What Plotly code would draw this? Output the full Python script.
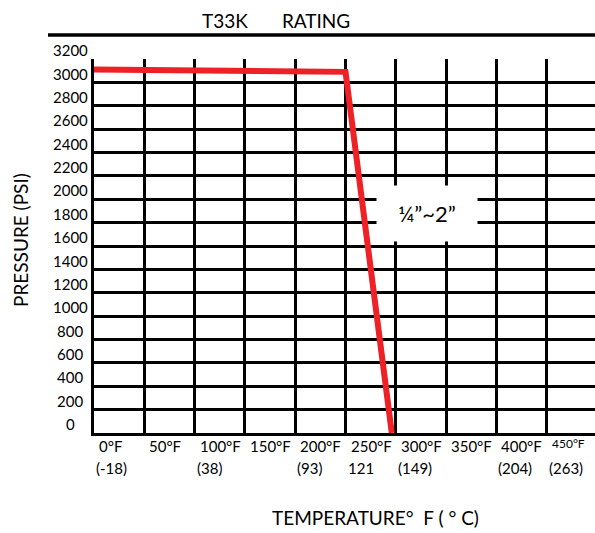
import plotly.graph_objects as go

# ---- data ----
temp_f = [0, 250, 296]
pressure_psi = [3110, 3090, 0]

y_label_values = [0, 200, 400, 600, 800, 1000, 1200, 1400, 1600, 1800, 2000,
                  2200, 2400, 2600, 2800, 3000, 3200]
x_f_values = [0, 50, 100, 150, 200, 250, 300, 350, 400, 450]
x_f_labels = ["0°F", "50°F", "100°F", "150°F", "200°F", "250°F", "300°F",
              "350°F", "400°F", "450°F"]
x_c_values = [0, 100, 200, 250, 300, 400, 450]
x_c_labels = ["(-18)", "(38)", "(93)", "121", "(149)", "(204)", "(263)"]

size_label = "¼”~2”"
size_label_x = 331
size_label_y = 1880

Y_RANGE = [0, 3200]
X_RANGE = [0, 498]

FONT = "Lato, 'Open Sans', sans-serif"
W, H = 595, 533
ML, MR, MT, MB = 94, 0, 59, 100
PW = W - ML - MR
PH = H - MT - MB


def py(pix):
    """paper y from a pixel row"""
    return (MT + PH - pix) / PH


def px(pix):
    """paper x from a pixel column"""
    return (pix - ML) / PW


fig = go.Figure()
fig.add_trace(go.Scatter(
    x=temp_f, y=pressure_psi, mode="lines",
    line=dict(color="#EE2126", width=6), hoverinfo="skip", showlegend=False))

annotations = []
# y labels (centred in the grid rows, at the left)
for v in y_label_values:
    annotations.append(dict(
        text=str(v), xref="paper", yref="paper", x=px(70),
        y=(v + 75 - Y_RANGE[0]) / (Y_RANGE[1] - Y_RANGE[0]),
        xanchor="center", yanchor="middle", showarrow=False,
        font=dict(family=FONT, size=15, color="black")))
# x labels in °F
for v, t in zip(x_f_values, x_f_labels):
    small = (v == 450)
    annotations.append(dict(
        text=t, xref="x", yref="paper", x=v, xshift=3,
        y=py(443 if small else 446),
        xanchor="left", yanchor="middle", showarrow=False,
        font=dict(family=FONT, size=12 if small else 15, color="black")))
# x labels in °C
for v, t in zip(x_c_values, x_c_labels):
    annotations.append(dict(
        text=t, xref="x", yref="paper", x=v, xshift=0,
        y=py(468),
        xanchor="left", yanchor="middle", showarrow=False,
        font=dict(family=FONT, size=15, color="black")))
# size label with white box
annotations.append(dict(
    text=size_label, xref="x", yref="y", x=size_label_x, y=size_label_y,
    showarrow=False, bgcolor="white", width=98, height=53,
    xanchor="center", yanchor="middle",
    font=dict(family=FONT, size=22, color="black")))
# titles
annotations.append(dict(
    text="T33K" + "\u00a0" * 7 + "RATING", xref="paper", yref="paper",
    x=px(276), y=py(20), xanchor="center", yanchor="middle",
    showarrow=False, font=dict(family=FONT, size=19, color="black")))
annotations.append(dict(
    text="TEMPERATURE°\u00a0 F ( ° C)", xref="paper", yref="paper",
    x=px(375), y=py(517), xanchor="center", yanchor="middle",
    showarrow=False, font=dict(family=FONT, size=19, color="black")))
annotations.append(dict(
    text="PRESSURE (PSI)", xref="paper", yref="paper", textangle=-90,
    x=px(20), y=py(240), xanchor="center", yanchor="middle",
    showarrow=False, font=dict(family=FONT, size=19, color="black")))

fig.update_layout(
    width=W, height=H,
    margin=dict(l=ML, r=MR, t=MT, b=MB),
    paper_bgcolor="white", plot_bgcolor="white",
    showlegend=False,
    annotations=annotations,
    shapes=[dict(type="line", xref="paper", yref="paper",
                 x0=px(48), x1=1, y0=py(35), y1=py(35),
                 line=dict(color="black", width=3.5))],
    xaxis=dict(range=X_RANGE, tick0=0, dtick=50, showticklabels=False,
               showgrid=True, gridcolor="black", gridwidth=3, zeroline=False,
               showline=True, linecolor="black", linewidth=3, ticks=""),
    yaxis=dict(range=Y_RANGE, tick0=0, dtick=200, showticklabels=False,
               showgrid=True, gridcolor="black", gridwidth=3, zeroline=False,
               showline=True, linecolor="black", linewidth=3, ticks=""),
)

fig.write_html(
    "out.html",
    config={"displayModeBar": False},
    post_script="document.body.style.margin='0';document.body.style.padding='0';",
)
